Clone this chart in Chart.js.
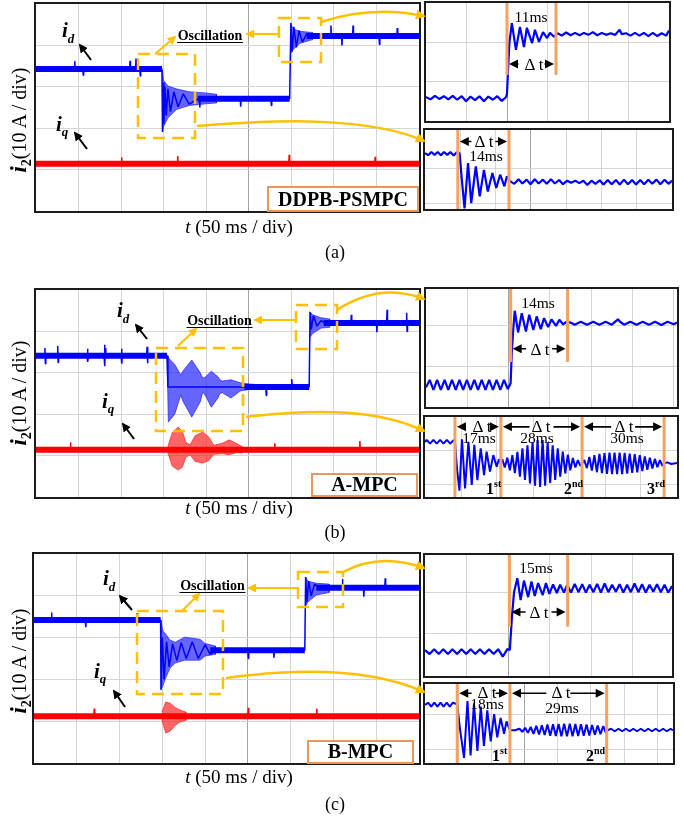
<!DOCTYPE html>
<html>
<head>
<meta charset="utf-8">
<script src="https://cdn.jsdelivr.net/npm/chart.js@4.4.0/dist/chart.umd.min.js"></script>
<style>
body { margin: 0; background: #fff; }
#fig { position: relative; width: 684px; height: 816px; overflow: hidden; background: #fff; }
.panel { position: absolute; border: 2px solid #1c1c1c; background: #fff; }
.panel canvas { display: block; }
#ann { position: absolute; left: 0; top: 0; font-family: "Liberation Serif", "DejaVu Serif", serif; }
</style>
</head>
<body>
<div id="fig"></div>
<script>
// Data: time in ms, current in A (10 A / div on every screen)
// "level" arrays are the mean of each trace, the raw arrays carry the spikes and ringing

// (a) DDPB-PSMPC, main screen
const idA_level = [[0,34.3],[148,34.3],[148.5,null],[190,27.1],[298,27.1],[298.5,null],[318,42.3],[450,42.3]];
const idA = [[0,34.3],[45,34.3],[45.5,36.2],[46,34.3],[55,34.3],[55.5,32.8],[56,34.3],[110,34.3],[110.5,36.3],[111,34.3],[117,34.3],[117.5,36.8],[118,34.3],[122,34.3],[122.5,32.6],[123,34.3],[148,34.3],[148.6,19.1],[149.4,31],[150.3,21],[151.5,30],[153,23],[155,29.5],[158,24],[162,28.8],[167,25.2],[173,28.3],[180,25.8],[190,27.1],[192,27.1],[192.5,25],[193,27.1],[240,27.1],[240.5,25.2],[241,27.1],[276,27.1],[276.5,25.5],[277,27.1],[298,27.1],[299.5,45.4],[301,38.5],[303,44.5],[306,39.5],[309,43.6],[313,40.8],[318,42.8],[323,42.3],[346,42.3],[346.5,44.8],[347,42.3],[359,42.3],[359.5,40],[360,42.3],[372,42.3],[372.5,44.8],[373,42.3],[403,42.3],[403.5,40.2],[404,42.3],[424,42.3],[424.5,44.2],[425,42.3],[450,42.3]];
const iqA_level = [[0,11.4],[450,11.4]];
const iqA = [[0,11.4],[100,11.4],[100.5,13],[101,11.4],[166,11.4],[166.5,13.3],[167,11.4],[297,11.4],[297.5,13.6],[298,11.4],[398,11.4],[398.5,13.1],[399,11.4],[450,11.4]];
const idA_fallUp = [[148.5,34],[150,31.5],[155,30.2],[165,29.5],[180,28.8],[200,28.5],[212,28.2]];
const idA_fallLow = [[148.5,19.1],[150,20.5],[155,22.5],[165,24.5],[180,25.5],[200,25.9],[212,26.1]];
const idA_riseUp = [[299,45.4],[302,44],[310,43.4],[325,43.1]];
const idA_riseLow = [[299,38],[302,39],[310,40.5],[325,41.4]];

// (b) A-MPC, main screen
const idB_level = [[0,34.1],[154,34.1],[154.5,null],[245,26.6],[321,26.6],[321.5,null],[338,42],[450,42]];
const idB = [[0,34.1],[10,34.1],[10.5,36],[11,32.2],[11.5,34.1],[25,34.1],[25.5,36.5],[26,32.5],[26.5,34.1],[60,34.1],[60.5,35.8],[61,32.6],[61.5,34.1],[80,34.1],[80.5,36.8],[81,31.6],[81.5,36],[82,34.1],[100,34.1],[100.5,35.8],[101,32.2],[101.5,34.1],[130,34.1],[130.5,36.3],[131,32.3],[131.5,34.1],[154,34.1],[155,26.6],[270,26.6],[270.5,24.5],[271,26.6],[300,26.6],[300.5,28.5],[301,26.6],[321,26.6],[322,44.7],[323.5,40.5],[326,43.8],[330,41.3],[335,42.6],[340,42],[370,42],[370.5,44],[371,42],[400,42],[400.5,39.8],[401,42],[412,42],[412.5,45.2],[413,42],[435,42],[435.5,44.5],[436,40],[436.5,42],[450,42]];
const iqB_level = [[0,11.4],[450,11.4]];
const iqB = [[0,11.4],[40,11.4],[40.5,13.2],[41,11.4],[280,11.4],[280.5,13],[281,11.4],[380,11.4],[380.5,13.5],[381,11.4],[450,11.4]];
const idB_fallUp = [[154,34.3],[156,33.5],[163,32],[170,29.5],[173,30.5],[183,33.1],[193,30],[196,28.7],[199,29],[206,30.4],[214,29],[216,28.3],[219,28],[229,28.3],[240,27.6],[251,27.3],[262,27.1]];
const idB_fallLow = [[154,34],[155.5,18.1],[163,20],[170,24.6],[173,23],[183,19.3],[193,23],[196,25.4],[199,24.5],[206,21.7],[214,24],[216,25],[219,25.2],[229,23.9],[240,25.6],[251,26],[262,26.1]];
const idB_riseUp = [[321.5,44.8],[325,44],[335,43.3],[345,43]];
const idB_riseLow = [[321.5,38.5],[325,39.5],[335,40.8],[345,41]];
const iqB_beatUp = [[155,12.2],[160,15.5],[167,16.9],[172,15.8],[176,13.2],[181,12.6],[187,14.8],[196,15.7],[203,14.5],[209,12.5],[219,13],[227,13.8],[237,12.8],[242,12.2]];
const iqB_beatLow = [[155,10.6],[160,7.5],[167,6.5],[172,7.2],[176,9.6],[181,10.2],[187,8.6],[196,8.2],[203,8.8],[209,10.3],[219,10.5],[227,10.2],[237,10.8],[242,10.6]];

// (c) B-MPC, main screen
const idC_level = [[0,34.2],[148,34.2],[148.4,null],[206,27],[316.5,27],[317,null],[330,41.9],[450,41.9]];
const idC = [[0,34.2],[20,34.2],[20.5,36],[21,34.2],[60,34.2],[60.5,32.5],[61,34.2],[120,34.2],[120.5,35.8],[121,34.2],[148,34.2],[148.4,17.5],[150,30],[152,20],[155,29],[158,23],[162,28.5],[167,24.5],[172,28.8],[178,25],[185,29],[192,25],[200,28.3],[206,26],[212,27],[250,27],[250.5,25],[251,27],[280,27],[280.5,25.2],[281,27],[316.5,27],[317.5,44.5],[319,38.5],[321,43.5],[324,40],[328,42.8],[335,41.9],[360,41.9],[360.5,44],[361,41.9],[385,41.9],[385.5,39.8],[386,41.9],[410,41.9],[410.5,44.2],[411,41.9],[450,41.9]];
const iqC_level = [[0,11.2],[450,11.2]];
const iqC = [[0,11.2],[70,11.2],[70.5,13],[71,11.2],[250,11.2],[250.5,13.2],[251,11.2],[330,11.2],[330.5,13],[331,11.2],[450,11.2]];
const idC_fallUp = [[148.4,34],[150.7,31.5],[153,31.1],[159,29.4],[165,28.9],[176,30.1],[194,29.6],[200,28.6],[206,28.3],[212,28]];
const idC_fallLow = [[148.4,17.5],[150.7,18.5],[153,19.9],[159,22.7],[165,23.9],[176,24.6],[194,24.6],[200,25.6],[206,25.8],[212,26]];
const idC_riseUp = [[317.5,44.5],[320,43.5],[330,43],[345,42.8]];
const idC_riseLow = [[317.5,37.5],[320,38.5],[330,40.2],[345,40.8]];
const iqC_burstUp = [[149.5,12.2],[154,14.6],[159,14.3],[165,13.3],[170.5,12.7],[177.6,12.2]];
const iqC_burstLow = [[149.5,10.2],[154,7.2],[159,7.6],[165,9],[170.5,9.8],[177.6,10.2]];

// zoomed views: i_d step-up (top) and i_d step-down (bottom)
const zoomA_up = [[0,6.1],[1.1,5.5],[2.2,6.4],[3.3,5.6],[4.4,6.3],[5.5,5.5],[6.6,6.4],[7.7,5.4],[8.8,6.3],[9.9,5.0],[11,6.2],[12.1,5.3],[13.2,6.3],[14.3,5.0],[15.4,6.2],[16.5,5.4],[17.6,6.3],[18.7,5.1],[19.8,6.1],[20.0,7],[20.3,14],[20.6,20],[21.2,24.9],[22.2,18.1],[23.2,23.9],[24.2,18.8],[24.9,23.7],[26.2,19.8],[26.9,23.2],[27.9,20.1],[28.9,22.6],[29.9,21.1],[30.6,22.4],[31.6,21.4],[32.5,22.3],[33.5,21.7],[34.6,22.5],[35.7,21.8],[36.8,22.4],[37.9,21.8],[39,22.4],[40.1,21.9],[41.2,22.6],[42.3,21.8],[43.4,22.4],[44.5,21.9],[45.6,22.3],[46.7,21.9],[47.8,23.2],[48.3,22.1],[49.4,22.3],[50.5,21.7],[51.6,22.4],[52.7,21.7],[53.8,22.4],[54.9,21.6],[56,22.4],[57.1,21.6],[58.2,22.3],[59.3,21.7],[60,23]];
const zoomA_down = [[0,14.3],[0.9,13.7],[1.8,14.6],[2.7,13.8],[3.6,14.6],[4.5,13.7],[5.4,14.6],[6.3,13.8],[7.2,14.6],[8.1,13.6],[9.0,14.5],[9.8,14.3],[10.5,6],[11.2,-1.5],[12.2,11.4],[13.1,0],[14.4,10.5],[15.5,1.9],[16.7,9.5],[17.8,3.3],[19.1,8.6],[20.2,4.3],[21.3,8.1],[22.5,4.8],[23.2,7.6],[24.2,6.2],[25.3,5.5],[26.5,6.8],[27.6,5.6],[28.8,6.7],[29.9,5.4],[31.1,6.8],[32.2,5.6],[33.4,6.7],[34.5,5.5],[35.7,6.8],[36.8,5.6],[38,6.6],[39.1,5.4],[40.3,6.4],[41.4,5.8],[42.6,6.4],[43.7,5.7],[44.9,6.4],[46,5.2],[47.2,6.4],[48.3,5.5],[49.5,6.5],[50.6,5.3],[51.8,6.6],[52.9,5.4],[54.1,6.6],[55.2,5.3],[56.4,6.7],[57.5,5.4],[58.7,6.6],[59.8,5.3],[61,6.6],[62.1,5.4],[63.3,6.7],[64.4,5.5],[65.6,6.7],[66.7,5.4],[67.9,6.7],[69,5.5],[70,6.4]];
const zoomB_up = [[0,5.0],[0.9,6.8],[1.8,4.4],[2.7,6.8],[3.6,4.4],[4.5,6.8],[5.4,4.4],[6.3,6.8],[7.2,4.4],[8.1,6.8],[9,4.4],[9.9,6.8],[10.8,4.4],[11.7,6.8],[12.6,4.4],[13.5,6.8],[14.4,4.4],[15.3,6.8],[16.2,4.4],[17.1,6.8],[18,4.4],[18.9,6.8],[19.8,4.6],[20.5,6],[20.8,14],[21.2,20],[21.5,23.7],[22.3,18.4],[23.2,23.1],[24.2,18.6],[25.0,22.7],[26.0,19.0],[26.8,22.3],[27.8,19.2],[28.6,21.9],[29.6,19.7],[30.4,21.6],[31.5,20.0],[32.3,21.5],[33.2,20.4],[34.1,21.0],[35,20.8],[36,20.3],[37.5,21],[39,20.3],[40.5,21],[42,20.3],[43.5,21],[45,20.3],[46.5,21.6],[47,21],[48,20.3],[49.5,21],[51,20.3],[52.5,21],[54,20.3],[55.5,21],[57,20.2],[58.5,21],[60,20.4],[60.8,20.8]];
const zoomB_down = [[0,13.0],[0.6,13.7],[1.8,12.5],[3.0,13.7],[4.2,12.5],[5.4,13.7],[6.6,12.5],[7.8,13.7],[9.0,12.5],[10.2,13.6],[10.7,13.1],[11.5,4],[12.3,-2.3],[13.2,13.9],[14.3,-1.6],[15.5,13.1],[16.7,-0.5],[17.6,12.1],[18.7,1.0],[19.9,11.0],[21.1,2.6],[22.0,10.0],[23.2,3.7],[24.4,8.9],[25.6,5.2],[26.4,7.6],[27.1,6.3],[27.6,7.6],[28.5,5.0],[29.4,8.1],[30.3,4.1],[31.2,8.9],[32.1,3.2],[33.0,9.9],[33.9,2.1],[34.8,11.0],[35.7,1.1],[36.6,12.0],[37.5,0.0],[38.4,13.0],[39.3,-0.7],[40.2,13.6],[41.1,-1.1],[42.0,13.6],[42.9,-0.7],[43.8,12.9],[44.7,0.1],[45.6,12.0],[46.5,1.1],[47.4,11.0],[48.3,2.1],[49.2,10.0],[50.1,3.1],[51.0,9.0],[51.9,4.1],[52.8,8.0],[53.7,5.0],[54.6,7.3],[55.5,5.5],[56.1,6.3],[56.9,7.3],[57.8,4.8],[58.7,8.3],[59.6,4.0],[60.5,8.9],[61.4,3.5],[62.3,9.3],[63.2,3.2],[64.1,9.5],[65.0,3.0],[65.9,9.7],[66.8,2.9],[67.7,9.7],[68.6,2.9],[69.5,9.7],[70.4,2.9],[71.3,9.6],[72.2,3.1],[73.1,9.4],[74.0,3.3],[74.9,9.2],[75.8,3.5],[76.7,8.9],[77.6,3.9],[78.5,8.5],[79.4,4.3],[80.3,8.1],[81.2,4.7],[82.1,7.7],[83.0,5.1],[83.9,7.3],[84.8,5.5],[85.4,6.3],[86.5,6.6],[88,6.1],[90,6.4]];
const zoomC_up = [[0,6.1],[1.1,5.1],[2.2,6.3],[3.3,5.1],[4.4,6.3],[5.5,5.1],[6.6,6.3],[7.7,5.1],[8.8,6.3],[9.9,5.1],[11,6.3],[12.1,5.1],[13.2,6.3],[14.3,5.1],[15.4,6.3],[16.5,5.1],[17.6,6.3],[18.7,4.5],[19.8,6.3],[20.4,6.1],[20.9,14],[21.4,20],[22.2,23.5],[23.0,18.2],[23.8,22.9],[24.8,18.9],[25.6,22.7],[26.4,19.2],[27.2,22.3],[28.3,19.4],[29.1,22.3],[29.9,19.7],[30.8,22.0],[31.7,19.9],[32.5,21.9],[33.4,20.0],[34.2,21.9],[35.1,20.0],[36.0,22.1],[36.9,20.1],[37.8,22.0],[38.7,20.0],[39.6,21.9],[40.5,20.1],[41.4,22.1],[42.3,20.0],[43.2,22.2],[44.1,20.1],[45.0,21.9],[45.9,20.2],[46.8,22.0],[47.7,20.0],[48.6,21.9],[49.5,20.1],[50.4,22.2],[51.3,20.1],[52.2,22.0],[53.1,20.0],[54.0,21.9],[54.9,20.2],[55.8,22.0],[56.7,20.1],[57.6,21.9],[58.5,20.0],[59.4,21.6]];
const zoomC_down = [[0,13.7],[1,14.4],[2,13.2],[3,14.4],[4,13.2],[5,14.4],[6,13.2],[7,14.4],[8,13.2],[9,14.4],[10.4,13.9],[11.3,6],[12.6,-3.0],[13.7,14.9],[14.7,-2.2],[15.8,14.2],[16.9,-0.8],[18.0,13.2],[19.0,0.8],[20.1,12.0],[21.2,2.2],[22.3,10.8],[23.3,3.5],[24.4,9.6],[25.5,4.6],[26.3,8.5],[27.4,5.7],[29,5.7],[30.5,6.2],[31.4,5.2],[32.3,6.5],[33.2,4.9],[34.1,6.8],[35.0,4.6],[35.9,7.1],[36.8,4.4],[37.7,7.3],[38.6,4.2],[39.5,7.5],[40.4,4.0],[41.3,7.6],[42.2,3.9],[43.1,7.7],[44.0,3.8],[44.9,7.8],[45.8,3.8],[46.7,7.8],[47.6,3.8],[48.5,7.7],[49.4,3.9],[50.3,7.6],[51.2,4.0],[52.1,7.5],[53.0,4.1],[53.9,7.4],[54.8,4.3],[55.7,7.2],[56.6,4.5],[57.5,7.0],[58.4,4.7],[58.8,5.7],[60,6.2],[61.2,5.4],[62.4,6.2],[63.6,5.4],[64.8,6.2],[66,5.4],[67.2,6.2],[68.4,5.4],[69.6,6.2],[70.8,5.4],[72,6.2],[73.2,5.4],[74.4,6.2],[75.6,5.4],[76.8,6.2],[78,5.4],[79.2,6.2],[80,5.7]];

// settling-time marks (ms)
const marksA_up = [20.0, 32.1];
const marksA_down = [9.3, 23.8];
const marksB_up = [20.5, 34.3];
const marksB_down = [10.7, 27.1, 56.1, 85.4];
const marksC_up = [20.3, 34.3];
const marksC_down = [10.4, 27.4, 58.6];

// grid positions
const gridMainX = [50, 100, 150, 200, 250, 300, 350, 400];
const gridMainY = [10, 20, 30, 40];
const gridZoomX = [10, 20, 30, 40, 50, 60];
const gridZoomY = [10, 20];

const BLUE = '#0000ff';
const RED = '#ff0000';
const ORANGE = '#f5a15f';
const GOLD = '#ffc000';

const fig = document.getElementById('fig');

// double arrows between the settling marks
const dtArrows = {
    id: 'dtArrows',
    afterDatasetsDraw(chart, args, opts) {
        if (!opts || !opts.marks) return;
        const { ctx, scales: { x, y } } = chart;
        const py = y.getPixelForValue(opts.y);
        ctx.save();
        ctx.strokeStyle = '#000';
        ctx.fillStyle = '#000';
        ctx.lineWidth = 1.6;
        for (let i = 0; i < opts.marks.length - 1; i++) {
            const x1 = x.getPixelForValue(opts.marks[i]) + 2;
            const x2 = x.getPixelForValue(opts.marks[i + 1]) - 2;
            const mid = (x1 + x2) / 2, g = opts.gap;
            ctx.beginPath();
            ctx.moveTo(x1 + 8, py); ctx.lineTo(mid - g, py);
            ctx.moveTo(mid + g, py); ctx.lineTo(x2 - 8, py);
            ctx.stroke();
            [[x1, 1], [x2, -1]].forEach(([hx, d]) => {
                ctx.beginPath();
                ctx.moveTo(hx, py);
                ctx.lineTo(hx + d * 9, py - 4.5);
                ctx.lineTo(hx + d * 9, py + 4.5);
                ctx.closePath();
                ctx.fill();
            });
        }
        ctx.restore();
    }
};

const pts = arr => arr.map(p => ({ x: p[0], y: p[1] }));

function makePanel(box, cfg) {
    const [left, top, w, h] = box;
    const div = document.createElement('div');
    div.className = 'panel';
    div.style.left = (left - 2) + 'px';
    div.style.top = (top - 2) + 'px';
    div.style.width = w + 'px';
    div.style.height = h + 'px';
    const cv = document.createElement('canvas');
    cv.width = w;
    cv.height = h;
    div.appendChild(cv);
    fig.appendChild(div);

    const datasets = [];
    (cfg.marks || []).forEach(t => {
        datasets.push({
            data: [{ x: t, y: cfg.markTop !== undefined ? cfg.markTop : cfg.y[1] + 2 }, { x: t, y: cfg.markBottom !== undefined ? cfg.markBottom : cfg.y[0] - 2 }],
            borderColor: ORANGE, borderWidth: 3, order: 0
        });
    });
    cfg.traces.forEach(tr => {
        datasets.push({ data: pts(tr.data), borderColor: tr.color, borderWidth: tr.width, borderJoinStyle: 'bevel', order: 1 });
    });
    (cfg.bands || []).forEach(b => {
        datasets.push({
            data: pts(b.up.concat(b.low.slice().reverse())),
            borderColor: b.color, backgroundColor: b.color, borderWidth: 1, fill: 'shape', order: 2
        });
    });

    const gridColor = c => (c.tick && c.tick.value === cfg.cx) ? '#a2a2a2' : '#d6d6d6';
    new Chart(cv, {
        type: 'line',
        data: { datasets },
        options: {
            responsive: false,
            animation: false,
            devicePixelRatio: 1,
            events: [],
            layout: { padding: 0 },
            elements: { point: { radius: 0 }, line: { tension: 0 } },
            plugins: { legend: { display: false }, tooltip: { enabled: false }, dtArrows: cfg.dt || false },
            scales: {
                x: {
                    type: 'linear', min: cfg.x[0], max: cfg.x[1],
                    ticks: { display: false },
                    grid: { color: gridColor, drawTicks: false, lineWidth: 1 },
                    border: { display: false },
                    afterBuildTicks: s => { s.ticks = cfg.gx.map(v => ({ value: v })); },
                    afterFit: s => { s.height = 0; }
                },
                y: {
                    type: 'linear', min: cfg.y[0], max: cfg.y[1],
                    ticks: { display: false },
                    grid: { color: '#d6d6d6', drawTicks: false, lineWidth: 1 },
                    border: { display: false },
                    afterBuildTicks: s => { s.ticks = cfg.gy.map(v => ({ value: v })); },
                    afterFit: s => { s.width = 0; }
                }
            }
        },
        plugins: [dtArrows]
    });
}

const blueBand = 'rgba(30,30,255,0.68)';
const redBand = 'rgba(255,30,30,0.68)';

// main screens: thick mean line + thin raw trace on top
function mainTraces(idLevel, id, iqLevel, iq) {
    return [
        { data: iqLevel, color: RED, width: 6 },
        { data: iq, color: RED, width: 1.5 },
        { data: idLevel, color: BLUE, width: 6 },
        { data: id, color: BLUE, width: 1.5 }
    ];
}

// (a)
makePanel([36, 4, 383, 207], {
    x: [0, 450], y: [0, 50], gx: gridMainX, gy: gridMainY, cx: 250,
    traces: mainTraces(idA_level, idA, iqA_level, iqA),
    bands: [{ up: idA_fallUp, low: idA_fallLow, color: blueBand }, { up: idA_riseUp, low: idA_riseLow, color: blueBand }]
});
makePanel([426, 3, 243, 118], {
    x: [0, 60], y: [0, 30], gx: gridZoomX, gy: gridZoomY, cx: 20,
    traces: [{ data: zoomA_up, color: BLUE, width: 2.2 }],
    marks: marksA_up, markTop: 32, markBottom: 11.7,
    dt: { marks: marksA_up, y: 14.5, gap: 13 }
});
makePanel([425, 130, 247, 79], {
    x: [0, 70], y: [-1.7, 20.9], gx: [10, 20, 30, 40, 50, 60], gy: [0, 10], cx: 30,
    traces: [{ data: zoomA_down, color: BLUE, width: 2.2 }],
    marks: marksA_down,
    dt: { marks: marksA_down, y: 17.6, gap: 12 }
});

// (b)
makePanel([36, 290, 383, 207], {
    x: [0, 450], y: [0, 50], gx: gridMainX, gy: gridMainY, cx: 250,
    traces: mainTraces(idB_level, idB, iqB_level, iqB),
    bands: [
        { up: idB_fallUp, low: idB_fallLow, color: blueBand },
        { up: idB_riseUp, low: idB_riseLow, color: blueBand },
        { up: iqB_beatUp, low: iqB_beatLow, color: redBand }
    ]
});
makePanel([426, 289, 251, 118], {
    x: [0, 60.8], y: [0.2, 29.0], gx: gridZoomX, gy: gridZoomY, cx: 20,
    traces: [{ data: zoomB_up, color: BLUE, width: 2.2 }],
    marks: marksB_up, markTop: 31, markBottom: 11.2,
    dt: { marks: marksB_up, y: 14.4, gap: 13 }
});
makePanel([425, 417, 252, 80], {
    x: [0, 90], y: [-4.3, 20.9], gx: [12.9, 25.7, 38.6, 51.4, 64.3, 77.1], gy: [-0.4, 10.3], cx: -1,
    traces: [{ data: zoomB_down, color: BLUE, width: 2 }],
    marks: marksB_down,
    dt: { marks: marksB_down, y: 17.8, gap: 12 }
});

// (c)
makePanel([34, 554, 385, 209], {
    x: [0, 450], y: [0, 50], gx: gridMainX, gy: gridMainY, cx: 250,
    traces: mainTraces(idC_level, idC, iqC_level, iqC),
    bands: [
        { up: idC_fallUp, low: idC_fallLow, color: blueBand },
        { up: idC_riseUp, low: idC_riseLow, color: blueBand },
        { up: iqC_burstUp, low: iqC_burstLow, color: redBand }
    ]
});
makePanel([425, 555, 247, 121], {
    x: [0, 59.4], y: [-0.2, 29.1], gx: gridZoomX, gy: gridZoomY, cx: 20,
    traces: [{ data: zoomC_up, color: BLUE, width: 2.2 }],
    marks: marksC_up, markTop: 31, markBottom: 11.7,
    dt: { marks: marksC_up, y: 15.3, gap: 13 }
});
makePanel([425, 684, 248, 79], {
    x: [0, 80], y: [-4.6, 20.3], gx: [10.7, 21.4, 32.1, 42.8, 53.5, 64.2, 74.9], gy: [-0.3, 10.7], cx: 32.1,
    traces: [{ data: zoomC_down, color: BLUE, width: 2 }],
    marks: marksC_down,
    dt: { marks: marksC_down, y: 17.4, gap: 12 }
});

// Annotations
function rowNotes(o) {
    let s = '';
    s += `<rect x="${o.box1[0]}" y="${o.box1[1]}" width="${o.box1[2]}" height="${o.box1[3]}" fill="none" stroke="${GOLD}" stroke-width="2.5" stroke-dasharray="12 7"/>`;
    s += `<rect x="${o.box2[0]}" y="${o.box2[1]}" width="${o.box2[2]}" height="${o.box2[3]}" fill="none" stroke="${GOLD}" stroke-width="2.5" stroke-dasharray="12 7"/>`;
    s += `<line x1="${o.a1[0]}" y1="${o.a1[1]}" x2="${o.a1[2]}" y2="${o.a1[3]}" stroke="${GOLD}" stroke-width="2.2" marker-end="url(#hg)"/>`;
    s += `<line x1="${o.a2[0]}" y1="${o.a2[1]}" x2="${o.a2[2]}" y2="${o.a2[3]}" stroke="${GOLD}" stroke-width="2.2" marker-end="url(#hg)"/>`;
    s += `<path d="${o.c1}" fill="none" stroke="${GOLD}" stroke-width="2.5" marker-end="url(#hg)"/>`;
    s += `<path d="${o.c2}" fill="none" stroke="${GOLD}" stroke-width="2.5" marker-end="url(#hg)"/>`;
    s += `<text x="${o.osc[0]}" y="${o.osc[1]}" text-anchor="middle" font-size="14" font-weight="bold">Oscillation</text>`;
    s += `<line x1="${o.osc[0] - 33}" y1="${o.osc[1] + 2.5}" x2="${o.osc[0] + 33}" y2="${o.osc[1] + 2.5}" stroke="#000" stroke-width="1.2"/>`;
    s += `<line x1="${o.pd[0]}" y1="${o.pd[1]}" x2="${o.pd[2]}" y2="${o.pd[3]}" stroke="#000" stroke-width="2" marker-end="url(#hb)"/>`;
    s += `<line x1="${o.pq[0]}" y1="${o.pq[1]}" x2="${o.pq[2]}" y2="${o.pq[3]}" stroke="#000" stroke-width="2" marker-end="url(#hb)"/>`;
    s += `<text x="${o.td[0]}" y="${o.td[1]}" font-size="21" font-weight="bold" font-style="italic">i<tspan font-size="13" dy="6">d</tspan></text>`;
    s += `<text x="${o.tq[0]}" y="${o.tq[1]}" font-size="21" font-weight="bold" font-style="italic">i<tspan font-size="13" dy="5">q</tspan></text>`;
    s += `<rect x="${o.lab[0]}" y="${o.lab[1]}" width="${o.lab[2]}" height="${o.lab[3]}" fill="#fff" stroke="#ee965a" stroke-width="2"/>`;
    s += `<text x="${o.lab[0] + o.lab[2] / 2}" y="${o.lab[1] + o.lab[3] - 5}" text-anchor="middle" font-size="20" font-weight="bold">${o.name}</text>`;
    s += `<text transform="translate(26,${o.ylab}) rotate(-90)" text-anchor="middle" font-size="20"><tspan font-weight="bold" font-style="italic" font-size="23">i</tspan><tspan font-weight="bold" font-size="14" dy="5">2</tspan><tspan dy="-5">(10 A / div)</tspan></text>`;
    s += `<text x="239" y="${o.xlab}" text-anchor="middle" font-size="19"><tspan font-style="italic">t</tspan> (50 ms / div)</text>`;
    s += `<text x="335" y="${o.cap[1]}" text-anchor="middle" font-size="18">${o.cap[0]}</text>`;
    return s;
}

const dtText = (x, y) => `<text x="${x}" y="${y}" text-anchor="middle" font-size="17">Δ t</text>`;
const msText = (x, y, s) => `<text x="${x}" y="${y}" text-anchor="middle" font-size="15.5">${s}</text>`;
const ordText = (x, y, n, sup) => `<text x="${x}" y="${y}" font-size="16" font-weight="bold">${n}<tspan font-size="10" dy="-7">${sup}</tspan></text>`;

let svg = `<svg id="ann" width="684" height="816" xmlns="http://www.w3.org/2000/svg">
<defs>
<marker id="hg" viewBox="0 0 10 10" refX="8" refY="5" markerWidth="4" markerHeight="4" orient="auto"><path d="M0,0 L10,5 L0,10 z" fill="${GOLD}"/></marker>
<marker id="hb" viewBox="0 0 10 10" refX="8" refY="5" markerWidth="4.5" markerHeight="4.5" orient="auto"><path d="M0,0 L10,5 L0,10 z" fill="#000"/></marker>
</defs>`;

svg += rowNotes({
    box1: [138, 54, 57, 84], box2: [279, 18, 42, 44],
    a1: [155, 54, 175, 37], a2: [279, 34, 247, 34],
    c1: 'M321 22 Q 372 5 424 16', c2: 'M197 126 C 280 119, 370 117, 424 141',
    osc: [210, 40], pd: [91, 60, 80, 45], pq: [87, 149, 75, 133],
    td: [62, 37], tq: [56, 131],
    lab: [268, 187, 150, 24], name: 'DDPB-PSMPC',
    ylab: 120, xlab: 233, cap: ['(a)', 258]
});
svg += rowNotes({
    box1: [156, 348, 87, 83], box2: [296, 305, 41, 44],
    a1: [178, 346, 196, 329], a2: [296, 320, 255, 320],
    c1: 'M337 310 Q 380 282 424 299', c2: 'M246 417 C 320 408, 380 410, 424 431',
    osc: [219.5, 325], pd: [147, 339, 136, 325], pq: [134, 439, 123, 424],
    td: [117, 317], tq: [102, 408],
    lab: [312, 474, 105, 22], name: 'A-MPC',
    ylab: 393, xlab: 514, cap: ['(b)', 538]
});
svg += rowNotes({
    box1: [137, 611, 86, 83], box2: [298, 572, 45, 35],
    a1: [182, 611, 199, 594], a2: [298, 588, 249, 588],
    c1: 'M343 572 Q 380 552 424 568', c2: 'M226 678 C 300 668, 370 668, 424 692',
    osc: [212.5, 590], pd: [132, 610, 120, 596], pq: [125, 707, 114, 691],
    td: [103, 585], tq: [94, 678],
    lab: [308, 741, 105, 22], name: 'B-MPC',
    ylab: 661, xlab: 783, cap: ['(c)', 810]
});

svg += msText(531, 22, '11ms') + dtText(534, 70);
svg += dtText(484, 147) + msText(486, 161, '14ms');
svg += msText(538, 308, '14ms') + dtText(540, 355);
svg += dtText(482, 432) + msText(479, 443, '17ms');
svg += dtText(541, 432) + msText(537, 443, '28ms');
svg += dtText(624, 432) + msText(627, 443, '30ms');
svg += ordText(486, 494, '1', 'st') + ordText(564, 494, '2', 'nd') + ordText(647, 494, '3', 'rd');
svg += msText(536, 573, '15ms') + dtText(539, 618);
svg += dtText(487, 698) + msText(487, 709, '18ms');
svg += dtText(561, 698) + msText(562, 713, '29ms');
svg += ordText(492, 761, '1', 'st') + ordText(586, 761, '2', 'nd');
svg += '</svg>';

fig.insertAdjacentHTML('beforeend', svg);
</script>
</body>
</html>
